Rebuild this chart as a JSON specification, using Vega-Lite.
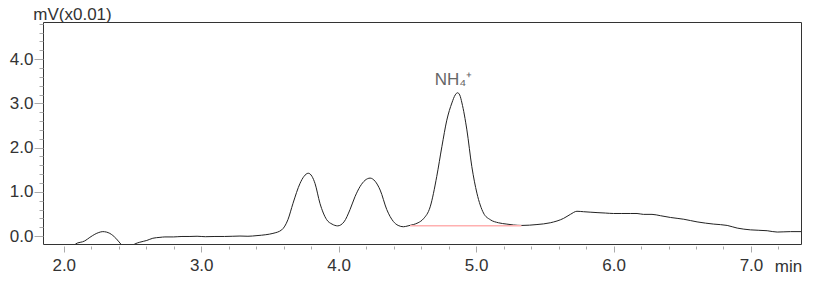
{
  "$schema": "https://vega.github.io/schema/vega-lite/v6.json",
  "width": 758,
  "height": 222,
  "autosize": {"type": "none"},
  "padding": {"left": 43, "top": 22, "right": 28, "bottom": 39},
  "background": "white",
  "config": {
    "view": {"stroke": "#333333", "strokeWidth": 1},
    "font": "Liberation Sans",
    "axis": {
      "labelFont": "Liberation Sans",
      "titleFont": "Liberation Sans",
      "labelColor": "#333333",
      "titleColor": "#333333",
      "labelFontSize": 17,
      "titleFontSize": 17,
      "titleFontWeight": "normal",
      "domain": false,
      "grid": false,
      "tickColor": "#aaaaaa",
      "labelOverlap": false,
      "labelFlush": false
    }
  },
  "datasets": {
    "signal": [
      {"t": 1.85, "v": -0.6}, {"t": 2.0, "v": -0.5}, {"t": 2.05, "v": -0.33},
      {"t": 2.085, "v": -0.18}, {"t": 2.153, "v": -0.11}, {"t": 2.19, "v": -0.03},
      {"t": 2.226, "v": 0.04}, {"t": 2.255, "v": 0.08}, {"t": 2.284, "v": 0.1},
      {"t": 2.31, "v": 0.09}, {"t": 2.335, "v": 0.06}, {"t": 2.379, "v": -0.05},
      {"t": 2.415, "v": -0.18}, {"t": 2.466, "v": -0.32}, {"t": 2.517, "v": -0.18},
      {"t": 2.553, "v": -0.14}, {"t": 2.604, "v": -0.1}, {"t": 2.648, "v": -0.05},
      {"t": 2.7, "v": -0.03}, {"t": 2.736, "v": -0.02}, {"t": 2.8, "v": -0.02},
      {"t": 2.86, "v": -0.01}, {"t": 2.918, "v": -0.01}, {"t": 2.97, "v": -0.005},
      {"t": 3.03, "v": -0.015}, {"t": 3.1, "v": -0.01}, {"t": 3.17, "v": -0.01},
      {"t": 3.23, "v": -0.005}, {"t": 3.282, "v": 0.0}, {"t": 3.34, "v": -0.005},
      {"t": 3.406, "v": 0.01}, {"t": 3.47, "v": 0.03}, {"t": 3.522, "v": 0.06},
      {"t": 3.586, "v": 0.14}, {"t": 3.631, "v": 0.37}, {"t": 3.668, "v": 0.74},
      {"t": 3.719, "v": 1.19}, {"t": 3.748, "v": 1.35}, {"t": 3.779, "v": 1.42},
      {"t": 3.806, "v": 1.35}, {"t": 3.828, "v": 1.19}, {"t": 3.864, "v": 0.74},
      {"t": 3.913, "v": 0.37}, {"t": 3.952, "v": 0.27}, {"t": 3.993, "v": 0.23},
      {"t": 4.039, "v": 0.32}, {"t": 4.083, "v": 0.6}, {"t": 4.119, "v": 0.89},
      {"t": 4.156, "v": 1.12}, {"t": 4.192, "v": 1.26}, {"t": 4.229, "v": 1.31},
      {"t": 4.265, "v": 1.24}, {"t": 4.302, "v": 1.04}, {"t": 4.35, "v": 0.6},
      {"t": 4.398, "v": 0.33}, {"t": 4.433, "v": 0.24}, {"t": 4.471, "v": 0.21},
      {"t": 4.505, "v": 0.23}, {"t": 4.544, "v": 0.26}, {"t": 4.578, "v": 0.3},
      {"t": 4.617, "v": 0.39}, {"t": 4.666, "v": 0.66}, {"t": 4.714, "v": 1.35},
      {"t": 4.751, "v": 2.02}, {"t": 4.787, "v": 2.62}, {"t": 4.824, "v": 3.01},
      {"t": 4.848, "v": 3.19}, {"t": 4.865, "v": 3.24}, {"t": 4.881, "v": 3.19},
      {"t": 4.897, "v": 3.01}, {"t": 4.933, "v": 2.4}, {"t": 4.969, "v": 1.57},
      {"t": 5.006, "v": 0.97}, {"t": 5.054, "v": 0.52}, {"t": 5.103, "v": 0.37},
      {"t": 5.163, "v": 0.3}, {"t": 5.224, "v": 0.27}, {"t": 5.272, "v": 0.25},
      {"t": 5.334, "v": 0.24}, {"t": 5.443, "v": 0.26}, {"t": 5.54, "v": 0.3},
      {"t": 5.637, "v": 0.4}, {"t": 5.686, "v": 0.49}, {"t": 5.734, "v": 0.56},
      {"t": 5.782, "v": 0.55}, {"t": 5.83, "v": 0.54}, {"t": 5.88, "v": 0.53},
      {"t": 5.94, "v": 0.52}, {"t": 5.999, "v": 0.51}, {"t": 6.06, "v": 0.51},
      {"t": 6.122, "v": 0.51}, {"t": 6.171, "v": 0.51}, {"t": 6.217, "v": 0.49},
      {"t": 6.28, "v": 0.49}, {"t": 6.341, "v": 0.46}, {"t": 6.414, "v": 0.42},
      {"t": 6.511, "v": 0.38}, {"t": 6.608, "v": 0.32}, {"t": 6.729, "v": 0.27},
      {"t": 6.827, "v": 0.24}, {"t": 6.9, "v": 0.18}, {"t": 6.996, "v": 0.14},
      {"t": 7.118, "v": 0.12}, {"t": 7.191, "v": 0.09}, {"t": 7.288, "v": 0.1},
      {"t": 7.364, "v": 0.1}
    ],
    "base": [{"t1": 4.52, "t2": 5.33, "v": 0.23}],
    "peaks": [{"t": 4.865, "v": 3.24, "label": "NH₄⁺"}]
  },
  "resolve": {"axis": {"x": "independent", "y": "independent"}},
  "layer": [
    {
      "data": {"name": "signal"},
      "mark": {"type": "line", "color": "#222222", "strokeWidth": 1, "clip": true, "interpolate": "monotone"},
      "encoding": {
        "x": {
          "field": "t", "type": "quantitative",
          "scale": {"domain": [1.849, 7.364], "nice": false, "zero": false},
          "axis": {
            "orient": "bottom",
            "values": [2, 3, 4, 5, 6, 7],
            "format": ".1f",
            "offset": 2,
            "tickSize": 6,
            "labelPadding": 5,
            "title": "min",
            "titleAngle": 0,
            "titleAlign": "center",
            "titleBaseline": "alphabetic",
            "titleX": 745,
            "titleY": 25
          }
        },
        "y": {
          "field": "v", "type": "quantitative",
          "scale": {"domain": [-0.18, 4.84], "nice": false, "zero": false},
          "axis": {
            "orient": "left",
            "values": [0, 1, 2, 3, 4],
            "format": ".1f",
            "tickSize": 9,
            "labelPadding": 1,
            "title": "mV(x0.01)",
            "titleAngle": 0,
            "titleAlign": "center",
            "titleBaseline": "alphabetic",
            "titleX": 29,
            "titleY": -3
          }
        }
      }
    },
    {
      "data": {"name": "base"},
      "mark": {"type": "rule", "color": "#ffb0b0", "strokeWidth": 1.5},
      "encoding": {
        "x": {
          "field": "t1", "type": "quantitative",
          "axis": {
            "orient": "bottom",
            "values": [2.2, 2.4, 2.6, 2.8, 3.2, 3.4, 3.6, 3.8, 4.2, 4.4, 4.6, 4.8, 5.2, 5.4, 5.6, 5.8, 6.2, 6.4, 6.6, 6.8, 7.2],
            "labels": false,
            "offset": 2,
            "tickSize": 3,
            "title": null
          }
        },
        "x2": {"field": "t2"},
        "y": {
          "field": "v", "type": "quantitative",
          "axis": {
            "orient": "left",
            "values": [0.2, 0.4, 0.6, 0.8, 1.2, 1.4, 1.6, 1.8, 2.2, 2.4, 2.6, 2.8, 3.2, 3.4, 3.6, 3.8, 4.2, 4.4, 4.6, 4.8],
            "labels": false,
            "tickSize": 4,
            "title": null
          }
        }
      }
    },
    {
      "data": {"name": "peaks"},
      "mark": {"type": "text", "color": "#666666", "fontSize": 17, "font": "Liberation Sans", "align": "center", "baseline": "alphabetic", "dy": -8, "dx": -4},
      "encoding": {
        "x": {"field": "t", "type": "quantitative", "axis": null},
        "y": {"field": "v", "type": "quantitative", "axis": null},
        "text": {"field": "label"}
      }
    }
  ]
}
